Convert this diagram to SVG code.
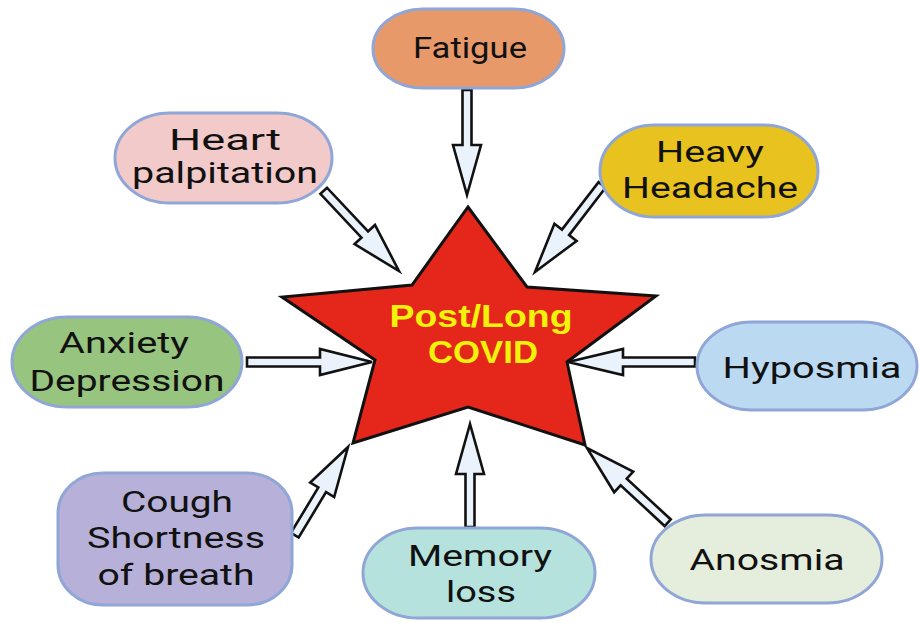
<svg xmlns="http://www.w3.org/2000/svg" width="919" height="623" viewBox="0 0 919 623">
<style>
.node{stroke:#8FA6D6;stroke-width:3}
.lbl{font-family:Roboto,"Liberation Sans",sans-serif;font-size:30px;fill:#111;text-anchor:middle}
.arr{fill:#EAF2FB;stroke:#111;stroke-width:2.6;stroke-linejoin:miter}
.star{fill:#E5261B;stroke:#111;stroke-width:3;stroke-linejoin:miter}
.st{font-family:"Liberation Sans",Arial,sans-serif;font-weight:bold;font-size:32px;fill:#F2F20A;text-anchor:middle}
</style>
<rect width="919" height="623" fill="#fff"/>
<g id="center">
<polygon class="star" points="468,207 527,287 656,296 567,362 585,445 468,407 353,443 375,360 282,297 412,285"/>
<text class="st" x="481" y="327" textLength="183" lengthAdjust="spacingAndGlyphs">Post/Long</text>
<text class="st" x="483" y="363" textLength="110" lengthAdjust="spacingAndGlyphs">COVID</text>
</g>
<g id="connectors">
<path class="arr" transform="translate(467,195) rotate(90)" d="M0,0 L-50,-14 L-50,-4.5 L-105,-4.5 L-105,4.5 L-50,4.5 L-50,14 Z"/>
<path class="arr" transform="translate(399,271) rotate(46.8)" d="M0,0 L-50,-14 L-50,-4.5 L-110,-4.5 L-110,4.5 L-50,4.5 L-50,14 Z"/>
<path class="arr" transform="translate(535,272) rotate(127.6)" d="M0,0 L-50,-14 L-50,-4.5 L-110,-4.5 L-110,4.5 L-50,4.5 L-50,14 Z"/>
<path class="arr" transform="translate(372,362) rotate(0)" d="M0,0 L-52,-13 L-52,-4.5 L-125,-4.5 L-125,4.5 L-52,4.5 L-52,13 Z"/>
<path class="arr" transform="translate(568,362) rotate(180)" d="M0,0 L-55,-13 L-55,-4.5 L-127,-4.5 L-127,4.5 L-55,4.5 L-55,13 Z"/>
<path class="arr" transform="translate(348,447) rotate(-58.9)" d="M0,0 L-50,-14 L-50,-4.5 L-103,-4.5 L-103,4.5 L-50,4.5 L-50,14 Z"/>
<path class="arr" transform="translate(470,424) rotate(-90)" d="M0,0 L-50,-14 L-50,-4.5 L-103,-4.5 L-103,4.5 L-50,4.5 L-50,14 Z"/>
<path class="arr" transform="translate(587,448) rotate(-137.2)" d="M0,0 L-50,-14 L-50,-4.5 L-110,-4.5 L-110,4.5 L-50,4.5 L-50,14 Z"/>
</g>
<g id="fatigue">
<rect class="node" x="373" y="9" width="191" height="79" rx="50" ry="39" fill="#E8996A"/>
<text class="lbl" x="470" y="58" textLength="114" lengthAdjust="spacingAndGlyphs">Fatigue</text>
</g>
<g id="heart">
<rect class="node" x="115" y="113" width="217" height="90" rx="55" ry="45" fill="#F2CACA"/>
<text class="lbl" x="225" y="150" textLength="112" lengthAdjust="spacingAndGlyphs">Heart</text>
<text class="lbl" x="225" y="183" textLength="186" lengthAdjust="spacingAndGlyphs">palpitation</text>
</g>
<g id="headache">
<rect class="node" x="600" y="125" width="218" height="92" rx="55" ry="46" fill="#E8C21E"/>
<text class="lbl" x="710" y="162" textLength="108" lengthAdjust="spacingAndGlyphs">Heavy</text>
<text class="lbl" x="710" y="198" textLength="176" lengthAdjust="spacingAndGlyphs">Headache</text>
</g>
<g id="anxiety">
<rect class="node" x="12" y="317" width="230" height="90" rx="55" ry="45" fill="#97C47E"/>
<text class="lbl" x="124" y="353" textLength="130" lengthAdjust="spacingAndGlyphs">Anxiety</text>
<text class="lbl" x="127" y="391" textLength="195" lengthAdjust="spacingAndGlyphs">Depression</text>
</g>
<g id="hyposmia">
<rect class="node" x="697" y="322" width="220" height="88" rx="55" ry="44" fill="#BBDAF2"/>
<text class="lbl" x="812" y="378" textLength="179" lengthAdjust="spacingAndGlyphs">Hyposmia</text>
</g>
<g id="cough">
<rect class="node" x="58" y="473" width="234" height="132" rx="45" ry="40" fill="#B7B0D8"/>
<text class="lbl" x="177" y="512" textLength="112" lengthAdjust="spacingAndGlyphs">Cough</text>
<text class="lbl" x="176" y="548" textLength="178" lengthAdjust="spacingAndGlyphs">Shortness</text>
<text class="lbl" x="176" y="585" textLength="157" lengthAdjust="spacingAndGlyphs">of breath</text>
</g>
<g id="memory">
<rect class="node" x="363" y="528" width="232" height="90" rx="55" ry="45" fill="#B5E2DD"/>
<text class="lbl" x="480" y="566" textLength="144" lengthAdjust="spacingAndGlyphs">Memory</text>
<text class="lbl" x="481" y="602" textLength="70" lengthAdjust="spacingAndGlyphs">loss</text>
</g>
<g id="anosmia">
<rect class="node" x="651" y="515" width="231" height="88" rx="55" ry="44" fill="#E5EDDC"/>
<text class="lbl" x="767" y="570" textLength="155" lengthAdjust="spacingAndGlyphs">Anosmia</text>
</g>
</svg>
